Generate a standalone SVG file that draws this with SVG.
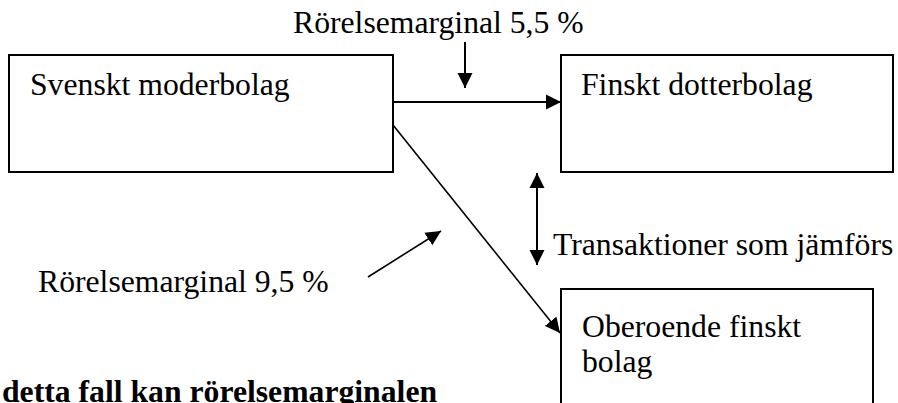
<svg xmlns="http://www.w3.org/2000/svg" width="898" height="403" viewBox="0 0 898 403">
  <style>
    .box { fill: #ffffff; stroke: #000000; stroke-width: 2; }
    .t { font-family: "Liberation Serif", "Times New Roman", serif; font-size: 31.7px; fill: #000000; }
    .b { font-weight: bold; }
    .ln { fill: none; stroke: #000000; stroke-width: 2; }
    .dg { fill: none; stroke: #000000; stroke-width: 1.6; }
  </style>
  <defs>
    <marker id="ah" markerUnits="userSpaceOnUse" markerWidth="16" markerHeight="16" viewBox="0 0 16 16" refX="15" refY="8" orient="auto-start-reverse">
      <path d="M0,0.5 L15,8 L0,15.5 z" fill="#000000"/>
    </marker>
  </defs>
  <rect width="898" height="403" fill="#ffffff"/>

  <g id="svenskt-moderbolag">
    <rect class="box" x="9" y="55" width="384" height="117"/>
    <text class="t" x="30" y="95">Svenskt moderbolag</text>
  </g>
  <g id="finskt-dotterbolag">
    <rect class="box" x="561" y="55" width="332" height="117"/>
    <text class="t" x="581" y="95">Finskt dotterbolag</text>
  </g>
  <g id="oberoende-finskt-bolag">
    <rect class="box" x="561" y="289" width="312" height="130"/>
    <text class="t" x="582" y="337">Oberoende finskt</text>
    <text class="t" x="582" y="372">bolag</text>
  </g>

  <g id="labels">
    <text class="t" x="293" y="33">Rörelsemarginal 5,5 %</text>
    <text class="t" x="38" y="292">Rörelsemarginal 9,5 %</text>
    <text class="t" x="553" y="255">Transaktioner som jämförs</text>
    <text class="t b" x="2" y="402">detta fall kan rörelsemarginalen</text>
  </g>

  <g id="connectors">
    <line class="ln" x1="393" y1="102" x2="561" y2="102" marker-end="url(#ah)"/>
    <line class="ln" x1="465" y1="42" x2="465" y2="88" marker-end="url(#ah)"/>
    <line class="ln" x1="537" y1="173" x2="537" y2="265" marker-start="url(#ah)" marker-end="url(#ah)"/>
    <line class="dg" x1="393" y1="125" x2="560" y2="333" marker-end="url(#ah)"/>
    <line class="dg" x1="368" y1="277" x2="441" y2="231" marker-end="url(#ah)"/>
  </g>
</svg>
